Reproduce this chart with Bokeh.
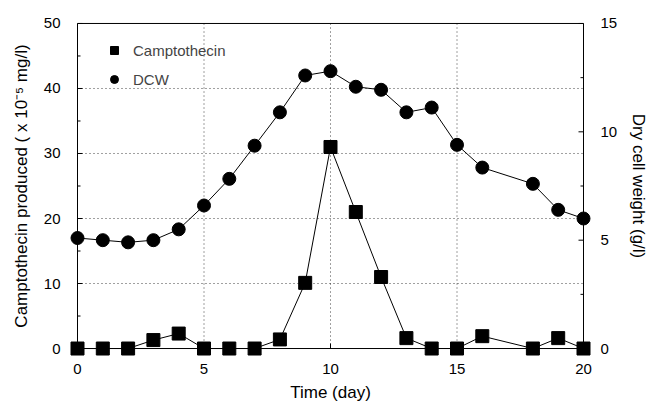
from bokeh.plotting import figure
from bokeh.models import (Range1d, LinearAxis, SingleIntervalTicker, Legend, LegendItem)
from bokeh.embed import file_html
from bokeh.resources import INLINE

# Culture time course: camptothecin production and dry cell weight
days_cpt = [0, 1, 2, 3, 4, 5, 6, 7, 8, 9, 10, 11, 12, 13, 14, 15, 16, 18, 19, 20]
camptothecin = [0, 0, 0, 1.3, 2.3, 0, 0, 0, 1.4, 10.1, 31.0, 21.0, 11.0, 1.6, 0, 0, 1.9, 0, 1.6, 0]

days_dcw = [0, 1, 2, 3, 4, 5, 6, 7, 8, 9, 10, 11, 12, 13, 14, 15, 16, 18, 19, 20]
dcw = [5.1, 5.0, 4.9, 5.0, 5.5, 6.6, 7.83, 9.36, 10.9, 12.6, 12.8, 12.08, 11.94, 10.9, 11.12, 9.4, 8.35, 7.6, 6.4, 6.0]

# axis limits and tick positions
x_lo, x_hi = 0, 20
y_lo, y_hi = 0, 50
dcw_lo, dcw_hi = 0, 15
x_major = [0, 5, 10, 15, 20]
y_major = [0, 10, 20, 30, 40, 50]
y_minor = [5, 15, 25, 35, 45]
dcw_major = [0, 5, 10, 15]
dcw_minor = [2.5, 7.5, 12.5]
grid_x = [5, 10, 15]
grid_y = [10, 20, 30, 40]

FONT = "Liberation Sans"

# The frame is padded a few pixels beyond the data box so that markers sitting
# on the box edges are drawn whole; the box and its ticks are drawn as glyphs.
PAD_PX = 8
BOX_W, BOX_H = 506, 326
px_x = (x_hi - x_lo) / BOX_W          # data units per pixel, x
px_y = (y_hi - y_lo) / BOX_H          # data units per pixel, left y
px_d = (dcw_hi - dcw_lo) / BOX_H      # data units per pixel, right y

p = figure(width=653, height=404, output_backend="svg", toolbar_location=None,
           x_range=Range1d(x_lo - PAD_PX * px_x, x_hi + PAD_PX * px_x),
           y_range=Range1d(y_lo - PAD_PX * px_y, y_hi + PAD_PX * px_y),
           min_border_left=77 - PAD_PX, min_border_right=70 - PAD_PX,
           min_border_top=23 - PAD_PX, min_border_bottom=55 - PAD_PX,
           x_axis_type=None, y_axis_type=None)
p.extra_y_ranges = {"dcw": Range1d(dcw_lo - PAD_PX * px_d, dcw_hi + PAD_PX * px_d)}

p.outline_line_color = None
p.xgrid.visible = False
p.ygrid.visible = False
p.background_fill_color = "white"
p.border_fill_color = "white"


def label_axis(ax, label, ticker):
    # axes carry only the text; lines and ticks are drawn on the box itself
    ax.ticker = ticker
    ax.axis_label = label
    ax.axis_label_text_font = FONT
    ax.axis_label_text_font_size = "17px"
    ax.axis_label_text_font_style = "normal"
    ax.axis_label_text_color = "black"
    ax.major_label_text_font = FONT
    ax.major_label_text_font_size = "15px"
    ax.major_label_text_color = "black"
    ax.axis_line_color = None
    ax.major_tick_line_color = None
    ax.minor_tick_line_color = None
    ax.major_tick_in = 0
    ax.major_tick_out = 0
    ax.minor_tick_in = 0
    ax.minor_tick_out = 0


xa = LinearAxis()
label_axis(xa, "Time (day)", SingleIntervalTicker(interval=5, num_minor_ticks=0))
xa.major_label_standoff = 7
xa.axis_label_standoff = 6
p.add_layout(xa, "below")

ya = LinearAxis()
label_axis(ya, "Camptothecin produced ( x 10\u207b\u2075 mg/l)",
           SingleIntervalTicker(interval=10, num_minor_ticks=0))
ya.major_label_standoff = 9
ya.axis_label_standoff = 10
p.add_layout(ya, "left")

ra = LinearAxis(y_range_name="dcw")
label_axis(ra, "Dry cell weight (g/l)", SingleIntervalTicker(interval=5, num_minor_ticks=0))
ra.major_label_standoff = 9
ra.axis_label_standoff = 9
p.add_layout(ra, "right")

# dotted grid, interior lines only
grid_style = dict(line_color="black", line_alpha=0.75, line_dash="1 3", line_width=1)
p.segment(x0=grid_x, y0=[y_lo] * len(grid_x), x1=grid_x, y1=[y_hi] * len(grid_x), **grid_style)
p.segment(x0=[x_lo] * len(grid_y), y0=grid_y, x1=[x_hi] * len(grid_y), y1=grid_y, **grid_style)

# box
p.segment(x0=[x_lo, x_lo, x_lo, x_hi], y0=[y_lo, y_hi, y_lo, y_lo],
          x1=[x_hi, x_hi, x_lo, x_hi], y1=[y_lo, y_hi, y_hi, y_hi],
          line_color="black", line_width=1)

# inward ticks
MAJ, MIN = 5, 3
tick_style = dict(line_color="black", line_width=1)
p.segment(x0=x_major, y0=[y_lo] * len(x_major), x1=x_major,
          y1=[y_lo + MAJ * px_y] * len(x_major), **tick_style)
p.segment(x0=[x_lo] * len(y_major), y0=y_major, x1=[x_lo + MAJ * px_x] * len(y_major),
          y1=y_major, **tick_style)
p.segment(x0=[x_lo] * len(y_minor), y0=y_minor, x1=[x_lo + MIN * px_x] * len(y_minor),
          y1=y_minor, **tick_style)
p.segment(x0=[x_hi] * len(dcw_major), y0=dcw_major, x1=[x_hi - MAJ * px_x] * len(dcw_major),
          y1=dcw_major, y_range_name="dcw", **tick_style)
p.segment(x0=[x_hi] * len(dcw_minor), y0=dcw_minor, x1=[x_hi - MIN * px_x] * len(dcw_minor),
          y1=dcw_minor, y_range_name="dcw", **tick_style)

# series
p.line(days_dcw, dcw, y_range_name="dcw", line_color="black", line_width=1)
r_dcw = p.scatter(days_dcw, dcw, y_range_name="dcw", marker="circle", size=13,
                  fill_color="black", line_color="black")

p.line(days_cpt, camptothecin, line_color="black", line_width=1)
r_cpt = p.scatter(days_cpt, camptothecin, marker="square", size=13,
                  fill_color="black", line_color="black")

legend = Legend(items=[LegendItem(label="Camptothecin", renderers=[r_cpt]),
                       LegendItem(label="DCW", renderers=[r_dcw])],
                location=(35, 266), padding=0, margin=0, spacing=7,
                glyph_width=20, glyph_height=22, label_height=20, label_standoff=9,
                label_text_font=FONT, label_text_font_size="15px",
                border_line_color=None, background_fill_alpha=0)
p.add_layout(legend, "center")

open("out.html", "w").write(file_html(p, INLINE))
